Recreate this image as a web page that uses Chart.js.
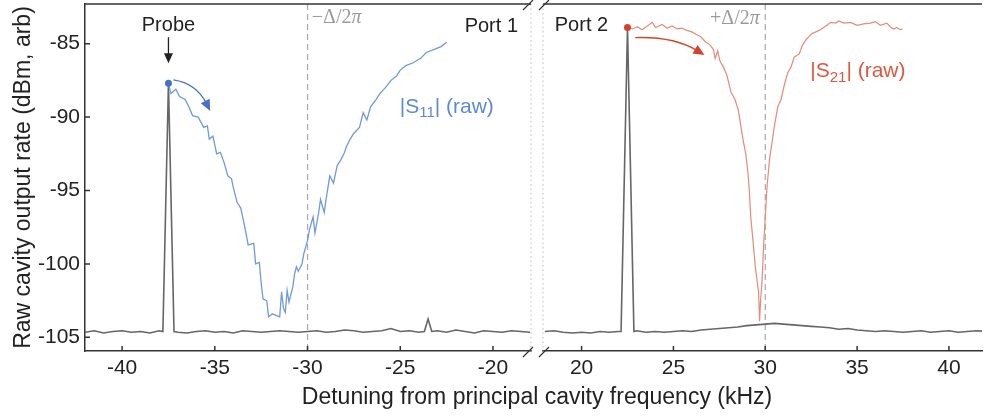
<!DOCTYPE html>
<html>
<head>
<meta charset="utf-8">
<script src="https://cdn.jsdelivr.net/npm/chart.js@4.4.1/dist/chart.umd.min.js"></script>
<style>
  html, body { margin: 0; padding: 0; background: #fff; }
  #wrap { position: relative; width: 986px; height: 417px; }
  #wrap canvas { position: absolute; left: 0; top: 0; }
</style>
</head>
<body>
<div id="wrap">
  <canvas id="port1" width="986" height="417"></canvas>
  <canvas id="port2" width="986" height="417"></canvas>
</div>
<script>
// Port 1 : balayage |S11| (brut), en kHz / dBm
const s11Freq = [-37.5, -37.37, -37.1, -36.9, -36.6, -36.4, -36.2, -35.9, -35.6, -35.4,
    -35.3, -35.1, -34.9, -34.7, -34.5, -34.3, -34.1, -34.0, -33.8, -33.6,
    -33.4, -33.2, -32.9, -32.8, -32.6, -32.5, -32.4, -32.2, -32.1, -31.9,
    -31.7, -31.5, -31.4, -31.3, -31.2, -31.1, -31.0, -30.8, -30.7, -30.6,
    -30.5, -30.3, -30.2, -30.0, -29.9, -29.7, -29.6, -29.4, -29.3, -29.1,
    -29.0, -28.8, -28.6, -28.4, -28.2, -28.0, -27.9, -27.7, -27.5, -27.2,
    -27.0, -26.8, -26.6, -26.3, -26.1, -25.8, -25.5, -25.2, -25.0, -24.7,
    -24.3, -23.9, -23.6, -23.2, -22.8, -22.5];
const s11Level = [-87.7, -88.4, -88.1, -88.6, -88.8, -89.3, -89.9, -90.0, -90.7, -90.6,
    -91.5, -91.3, -92.5, -92.4, -93.1, -94.0, -94.2, -94.8, -95.8, -96.2,
    -97.4, -98.7, -98.6, -100.0, -99.9, -101.3, -102.4, -102.5, -103.6, -103.4,
    -103.5, -103.6, -101.9, -103.0, -103.3, -101.8, -102.6, -101.6, -100.7, -100.2,
    -100.5, -100.0, -99.3, -98.4, -97.7, -96.8, -97.9, -96.5, -95.6, -96.5,
    -95.6, -94.0, -94.5, -93.3, -92.9, -92.4, -92.0, -91.5, -91.1, -90.7,
    -89.7, -90.2, -89.3, -88.8, -88.4, -88.0, -87.5, -87.2, -86.8, -86.5,
    -86.3, -86.0, -85.6, -85.4, -85.2, -84.9];

// Port 1 : trace du détecteur (sonde a -37.5 kHz)
const port1Freq = [-42, -41.5, -41, -40.5, -40, -39.5, -39, -38.5, -38,
    -37.8, -37.5, -37.2,
    -37, -36.5, -36, -35.5, -35, -34.5, -34, -33.5, -33, -32.5, -32, -31.5, -31,
    -30.5, -30, -29.5, -29, -28.5, -28, -27.5, -27, -26.5, -26, -25.5, -25, -24.5, -24,
    -23.7, -23.5, -23.3,
    -23, -22.5, -22, -21.5, -21, -20.5, -20, -19.5, -19, -18.5, -18];
const port1Level = [-104.65, -104.55, -104.7, -104.6, -104.55, -104.65, -104.6, -104.7, -104.55,
    -104.6, -87.7, -104.6,
    -104.65, -104.7, -104.6, -104.55, -104.65, -104.6, -104.7, -104.55, -104.6, -104.65, -104.6, -104.55, -104.6,
    -104.65, -104.6, -104.55, -104.65, -104.6, -104.5, -104.55, -104.65, -104.6, -104.55, -104.4, -104.6, -104.55, -104.65,
    -104.6, -103.75, -104.6,
    -104.55, -104.65, -104.5, -104.6, -104.7, -104.55, -104.6, -104.65, -104.55, -104.6, -104.65];

// Port 2 : balayage |S21| (brut)
const s21Freq = [22.5, 22.77, 23.04, 23.3, 23.58, 23.85, 24.03, 24.39, 24.66, 24.93,
    25.2, 25.47, 25.74, 26.0, 26.28, 26.46, 26.73, 27.0, 27.18, 27.27,
    27.41, 27.54, 27.72, 27.9, 28.02, 28.13, 28.35, 28.53, 28.67, 28.8,
    28.94, 29.06, 29.14, 29.21, 29.33, 29.46, 29.57, 29.64, 29.69, 29.75,
    29.82, 29.91, 30.0, 30.1, 30.23, 30.36, 30.5, 30.68, 30.86, 31.04,
    31.22, 31.4, 31.58, 31.85, 32.03, 32.21, 32.39, 32.57, 32.75, 33.0,
    33.3, 33.56, 33.83, 34.0, 34.28, 34.64, 35.0, 35.36, 35.72, 36.0,
    36.26, 36.62, 36.8, 36.98, 37.16, 37.34, 37.48];
const s21Level = [-83.9, -84.0, -83.85, -84.05, -83.8, -83.55, -83.9, -83.7, -83.95, -83.8,
    -84.0, -83.95, -84.1, -84.2, -84.4, -84.5, -84.85, -85.1, -85.4, -86.0,
    -85.5, -86.2, -86.6, -87.1, -87.7, -88.3, -88.8, -89.5, -90.6, -91.6,
    -92.5, -93.8, -95.2, -96.8, -98.4, -100.2, -101.3, -102.0, -103.9, -102.4,
    -101.3, -98.8, -96.8, -94.7, -92.9, -91.8, -90.6, -89.3, -88.8, -87.8,
    -87.0, -86.6, -85.9, -85.7, -85.1, -84.75, -84.5, -84.3, -84.2, -84.05,
    -83.8, -83.55, -83.6, -83.45, -83.6, -83.55, -83.75, -83.65, -83.6, -83.5,
    -83.75, -83.6, -83.85, -84.0, -83.9, -84.05, -84.0];

// Port 2 : trace du détecteur (sonde a +22.5 kHz)
const port2Freq = [18, 18.5, 19, 19.5, 20, 20.5, 21, 21.5, 22,
    22.15, 22.5, 22.85,
    23, 23.5, 24, 24.5, 25, 25.5, 26, 26.5, 27, 27.5, 28, 28.5, 29, 29.5, 30, 30.5,
    31, 31.5, 32, 32.5, 33, 33.5, 34, 34.5, 35, 35.5, 36, 36.5, 37, 37.5, 38, 38.5,
    39, 39.5, 40, 40.5, 41, 41.5, 42];
const port2Level = [-104.6, -104.55, -104.65, -104.7, -104.65, -104.7, -104.6, -104.65, -104.6,
    -104.6, -83.9, -104.6,
    -104.55, -104.65, -104.6, -104.65, -104.6, -104.55, -104.6, -104.5, -104.45, -104.4, -104.35, -104.3, -104.2, -104.15, -104.1, -104.05,
    -104.1, -104.15, -104.2, -104.25, -104.3, -104.35, -104.45, -104.4, -104.5, -104.55, -104.6, -104.55, -104.6, -104.65, -104.6, -104.55,
    -104.65, -104.6, -104.55, -104.65, -104.6, -104.55, -104.6];

// Axes
const port1XTicks = [-40, -35, -30, -25, -20];
const port2XTicks = [20, 25, 30, 35, 40];
const yTicks = [-105, -100, -95, -90, -85];
const probe1 = { x: -37.5, y: -87.7 };
const probe2 = { x: 22.5, y: -83.9 };

const FONT = '"Liberation Sans", Arial, Helvetica, sans-serif';
const SERIF = '"Liberation Serif", "DejaVu Serif", serif';
const AXIS_COLOR = '#333';
const BLUE = '#6e9ade';
const BLUE_DARK = '#4673c4';
const RED = '#e8897b';
const RED_DARK = '#d2432b';
const GREY = '#666';

const zip = (xs, ys) => xs.map((x, i) => ({ x: x, y: ys[i] }));

function arrowHead(ctx, tx, ty, fx, fy, len, half, color) {
    const a = Math.atan2(ty - fy, tx - fx);
    const bx = tx - len * Math.cos(a), by = ty - len * Math.sin(a);
    ctx.fillStyle = color;
    ctx.beginPath();
    ctx.moveTo(tx, ty);
    ctx.lineTo(bx + half * Math.sin(a), by - half * Math.cos(a));
    ctx.lineTo(bx - half * Math.sin(a), by + half * Math.cos(a));
    ctx.closePath();
    ctx.fill();
}

function curvedArrow(ctx, p0, c, p1, color) {
    const a = Math.atan2(p1.y - c.y, p1.x - c.x);
    const ex = p1.x - 8 * Math.cos(a), ey = p1.y - 8 * Math.sin(a);
    ctx.strokeStyle = color;
    ctx.lineWidth = 1.3;
    ctx.beginPath();
    ctx.moveTo(p0.x, p0.y);
    ctx.quadraticCurveTo(c.x, c.y, ex, ey);
    ctx.stroke();
    arrowHead(ctx, p1.x, p1.y, c.x, c.y, 11, 5, color);
}

function subLabel(ctx, x, y, pre, sub, post, color) {
    ctx.fillStyle = color;
    ctx.textAlign = 'left';
    ctx.textBaseline = 'middle';
    ctx.font = '21px ' + FONT;
    ctx.fillText(pre, x, y);
    let w = ctx.measureText(pre).width;
    ctx.font = '15px ' + FONT;
    ctx.fillText(sub, x + w, y + 6);
    w += ctx.measureText(sub).width;
    ctx.font = '21px ' + FONT;
    ctx.fillText(post, x + w, y);
}

function deltaLabel(ctx, x, y, sign, align) {
    ctx.fillStyle = '#9a9a9a';
    ctx.textBaseline = 'middle';
    ctx.textAlign = 'left';
    ctx.font = '20px ' + SERIF;
    const head = sign + 'Δ/2';
    const w1 = ctx.measureText(head).width;
    ctx.font = 'italic 20px ' + SERIF;
    const w2 = ctx.measureText('π').width;
    const x0 = align === 'right' ? x - w1 - w2 : x;
    ctx.font = '20px ' + SERIF;
    ctx.fillText(head, x0, y);
    ctx.font = 'italic 20px ' + SERIF;
    ctx.fillText('π', x0 + w1, y);
}

// Décor d'un panneau : cadre, graduations internes, coupure d'axe, annotations
const panelDecor = {
    id: 'panelDecor',
    beforeDatasetsDraw(chart, args, opts) {
        const ctx = chart.ctx, area = chart.chartArea;
        const xs = chart.scales.x;
        ctx.save();
        // ligne +/- Delta
        const px = xs.getPixelForValue(opts.deltaAt);
        ctx.strokeStyle = '#a8a8a8';
        ctx.lineWidth = 1.2;
        ctx.setLineDash([6, 4]);
        ctx.beginPath();
        ctx.moveTo(px, area.top);
        ctx.lineTo(px, area.bottom);
        ctx.stroke();
        // bord pointillé de la coupure
        const bx = opts.side === 'left' ? area.right : area.left;
        ctx.strokeStyle = '#bdbdbd';
        ctx.lineWidth = 1;
        ctx.setLineDash([1.5, 3]);
        ctx.beginPath();
        ctx.moveTo(bx, area.top);
        ctx.lineTo(bx, area.bottom);
        ctx.stroke();
        ctx.restore();
    },
    afterDraw(chart, args, opts) {
        const ctx = chart.ctx, area = chart.chartArea;
        const xs = chart.scales.x, ys = chart.scales.y;
        const P = (x, y) => ({ x: xs.getPixelForValue(x), y: ys.getPixelForValue(y) });
        ctx.save();
        ctx.strokeStyle = AXIS_COLOR;
        ctx.lineWidth = 1.5;
        // cadre haut
        ctx.beginPath();
        ctx.moveTo(area.left, area.top);
        ctx.lineTo(area.right, area.top);
        ctx.stroke();
        // graduations vers l'intérieur
        ctx.beginPath();
        xs.ticks.forEach(t => {
            const p = xs.getPixelForValue(t.value);
            ctx.moveTo(p, area.bottom);
            ctx.lineTo(p, area.bottom - 5);
        });
        if (opts.side === 'left') {
            ys.ticks.forEach(t => {
                const p = ys.getPixelForValue(t.value);
                ctx.moveTo(area.left, p);
                ctx.lineTo(area.left + 5, p);
            });
        }
        ctx.stroke();
        // marques de coupure
        const cx = opts.side === 'left' ? area.right - 3 : area.left + 1;
        ctx.lineWidth = 1.2;
        ctx.beginPath();
        [area.top + 1, area.bottom + 1].forEach(cy => {
            ctx.moveTo(cx - 5, cy + 5);
            ctx.lineTo(cx + 5, cy - 5);
        });
        ctx.stroke();

        // annotations
        ctx.fillStyle = '#222';
        ctx.font = '20px ' + FONT;
        ctx.textBaseline = 'middle';
        if (opts.side === 'left') {
            const t = P(-37.5, -83.75);
            ctx.textAlign = 'center';
            ctx.fillText('Probe', t.x, t.y);
            const a0 = P(-37.5, -84.56), a1 = P(-37.5, -86.34);
            ctx.strokeStyle = '#222';
            ctx.lineWidth = 1.3;
            ctx.beginPath();
            ctx.moveTo(a0.x, a0.y);
            ctx.lineTo(a1.x, a1.y - 8);
            ctx.stroke();
            arrowHead(ctx, a1.x, a1.y, a0.x, a0.y, 10, 4.5, '#222');
            ctx.fillStyle = '#222';
            ctx.font = '20px ' + FONT;
            ctx.textAlign = 'right';
            const pl = P(-18.65, -83.8);
            ctx.fillText('Port 1', pl.x, pl.y);
            const d = P(-29.77, -83.27);
            deltaLabel(ctx, d.x, d.y, '\u2212', 'left');
            curvedArrow(ctx, P(-37.23, -87.47), P(-36.0, -87.7), P(-35.25, -89.58), BLUE_DARK);
            const s = P(-25.03, -89.3);
            subLabel(ctx, s.x, s.y, '|S', '11', '| (raw)', '#5d8ad6');
            // titre de l'axe x, commun aux deux panneaux
            ctx.fillStyle = '#222';
            ctx.font = '23px ' + FONT;
            ctx.textAlign = 'center';
            ctx.textBaseline = 'middle';
            ctx.fillText('Detuning from principal cavity frequency (kHz)', 537, 398);
        } else {
            ctx.textAlign = 'left';
            const pl = P(18.54, -83.75);
            ctx.fillText('Port 2', pl.x, pl.y);
            const d = P(29.7, -83.33);
            deltaLabel(ctx, d.x, d.y, '+', 'right');
            curvedArrow(ctx, P(22.92, -84.59), P(25.02, -84.5), P(26.69, -85.77), RED_DARK);
            const s = P(32.45, -86.91);
            subLabel(ctx, s.x, s.y, '|S', '21', '| (raw)', '#e0573f');
        }
        ctx.restore();
    }
};

// pas de marge automatique autour des libellés : le cadre est fixé par layout.padding
function noScalePadding(s) {
    s.paddingTop = 0;
    s.paddingBottom = 0;
    s.paddingLeft = 0;
    s.paddingRight = 0;
}

function axisY(show) {
    return {
        display: show,
        min: -105.93,
        max: -82.3,
        afterBuildTicks: s => { s.ticks = yTicks.map(v => ({ value: v })); },
        afterFit: s => { if (show) s.width = 85; noScalePadding(s); },
        grid: { display: false, drawTicks: false, tickLength: 0 },
        border: { display: show, color: AXIS_COLOR, width: 1.5 },
        ticks: { color: '#222', padding: 5, font: { family: FONT, size: 21 } },
        title: {
            display: show,
            text: 'Raw cavity output rate (dBm, arb)',
            color: '#222',
            font: { family: FONT, size: 23 },
            padding: { top: 10, bottom: 0 }
        }
    };
}

function axisX(min, max, ticks) {
    return {
        type: 'linear',
        min: min,
        max: max,
        afterBuildTicks: s => { s.ticks = ticks.map(v => ({ value: v })); },
        afterFit: s => { s.height = 66; noScalePadding(s); },
        grid: { display: false, drawTicks: false, tickLength: 0 },
        border: { display: true, color: AXIS_COLOR, width: 1.5 },
        ticks: { color: '#222', padding: 5, maxRotation: 0, autoSkip: false, font: { family: FONT, size: 21 } }
    };
}

function lineSet(data, color, width) {
    return { data: data, borderColor: color, borderWidth: width, pointRadius: 0, fill: false, tension: 0 };
}

function dotSet(p, color) {
    return { data: [p], showLine: false, pointRadius: 3.5, pointBackgroundColor: color, pointBorderColor: color, pointBorderWidth: 0 };
}

new Chart(document.getElementById('port1'), {
    type: 'line',
    data: {
        datasets: [
            dotSet(probe1, BLUE_DARK),
            lineSet(zip(s11Freq, s11Level), BLUE, 1.3),
            lineSet(zip(port1Freq, port1Level), GREY, 1.6)
        ]
    },
    options: {
        responsive: false,
        animation: false,
        devicePixelRatio: 1,
        layout: { padding: { left: 0, right: 455, top: 4, bottom: 0 } },
        plugins: {
            legend: { display: false },
            tooltip: { enabled: false },
            panelDecor: { side: 'left', deltaAt: -30 }
        },
        scales: { x: axisX(-42, -17.95, port1XTicks), y: axisY(true) }
    },
    plugins: [panelDecor]
});

new Chart(document.getElementById('port2'), {
    type: 'line',
    data: {
        datasets: [
            dotSet(probe2, RED_DARK),
            lineSet(zip(s21Freq, s21Level), RED, 1.2),
            lineSet(zip(port2Freq, port2Level), GREY, 1.6)
        ]
    },
    options: {
        responsive: false,
        animation: false,
        devicePixelRatio: 1,
        layout: { padding: { left: 543, right: 0, top: 4, bottom: 0 } },
        plugins: {
            legend: { display: false },
            tooltip: { enabled: false },
            panelDecor: { side: 'right', deltaAt: 30 }
        },
        scales: { x: axisX(17.9, 41.8, port2XTicks), y: axisY(false) }
    },
    plugins: [panelDecor]
});
</script>
</body>
</html>
